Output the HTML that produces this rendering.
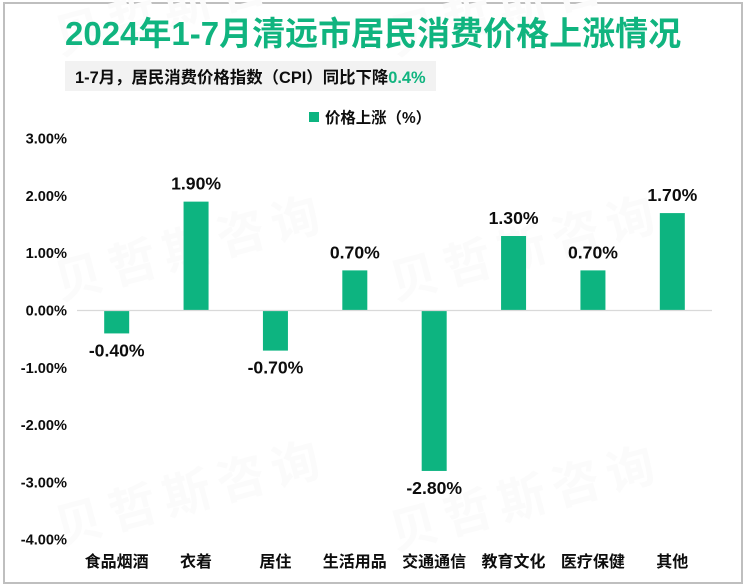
<!DOCTYPE html>
<html lang="zh"><head><meta charset="utf-8"><title>2024年1-7月清远市居民消费价格上涨情况</title>
<style>
html,body{margin:0;padding:0;background:#fff}
body{width:746px;height:586px;overflow:hidden;position:relative}
svg{position:absolute;left:0;top:0}
text{font-family:"Liberation Sans","Noto Sans CJK SC",sans-serif;font-weight:700;fill:#0d0d0d}
.wm{font-size:48px;fill:#fbfbfb;letter-spacing:8px}
</style></head><body>
<svg id="chart" width="746" height="586" viewBox="0 0 746 586" xmlns="http://www.w3.org/2000/svg">
<rect x="4" y="3" width="738" height="580" fill="#fff" stroke="#bfbfbf" stroke-width="2"/>
<g>
<text class="wm" transform="translate(60,55) rotate(-15)">贝哲斯咨询</text>
<text class="wm" transform="translate(395,55) rotate(-15)">贝哲斯咨询</text>
<text class="wm" transform="translate(60,300) rotate(-15)">贝哲斯咨询</text>
<text class="wm" transform="translate(395,300) rotate(-15)">贝哲斯咨询</text>
<text class="wm" transform="translate(60,545) rotate(-15)">贝哲斯咨询</text>
<text class="wm" transform="translate(395,550) rotate(-15)">贝哲斯咨询</text>
</g>
<text x="65" y="45" font-size="33" style="fill:#10b47f">2024年1-7月清远市居民消费价格上涨情况</text>
<rect x="65" y="61" width="371" height="30" fill="#f2f2f2"/>
<text x="75" y="83" font-size="16.4">1-7月，居民消费价格指数（CPI）同比下降<tspan style="fill:#10b47f">0.4%</tspan></text>
<rect x="309" y="112" width="10" height="10" fill="#0db480"/>
<text x="325" y="123" font-size="15.4">价格上涨（%）</text>
<g id="y-axis"></g>
<g id="bars"></g>
<line x1="77" x2="712" y1="310.5" y2="310.5" stroke="#d9d9d9" stroke-width="1.2"/>
<g id="x-axis"></g>
</svg>
<script>
const categories = ['食品烟酒','衣着','居住','生活用品','交通通信','教育文化','医疗保健','其他'];
const seriesValues = [-0.4,1.9,-0.7,0.7,-2.8,1.3,0.7,1.7];
const valueLabels = ['-0.40%','1.90%','-0.70%','0.70%','-2.80%','1.30%','0.70%','1.70%'];
const yTicks = [3,2,1,0,-1,-2,-3,-4];
const yTickLabels = ['3.00%','2.00%','1.00%','0.00%','-1.00%','-2.00%','-3.00%','-4.00%'];

const NS = 'http://www.w3.org/2000/svg';
const plotLeft = 77, plotRight = 712, zeroY = 310.5, unit = 57.3, barW = 25;
const yScale = v => zeroY - v * unit;
const xScale = i => plotLeft + (plotRight - plotLeft) * (i + 0.5) / categories.length;
function svgText(parent, x, y, size, anchor, str) {
  const t = document.createElementNS(NS, 'text');
  t.setAttribute('x', x);
  t.setAttribute('y', y);
  t.setAttribute('font-size', size);
  t.setAttribute('text-anchor', anchor);
  t.textContent = str;
  parent.appendChild(t);
  return t;
}
const yAxis = document.getElementById('y-axis');
yTicks.forEach((v, i) => {
  const t = svgText(yAxis, 67, yScale(v) + 5, 14.6, 'end', yTickLabels[i]);
  
  
});
const barsG = document.getElementById('bars');
seriesValues.forEach((v, i) => {
  const r = document.createElementNS(NS, 'rect');
  const y0 = yScale(Math.max(v, 0)), y1 = yScale(Math.min(v, 0));
  r.setAttribute('x', xScale(i) - barW / 2);
  r.setAttribute('y', y0);
  r.setAttribute('width', barW);
  r.setAttribute('height', y1 - y0);
  r.setAttribute('fill', '#0db480');
  
  
  barsG.appendChild(r);
  const ly = v >= 0 ? y0 - 12 : y1 + 23;
  const t = svgText(barsG, xScale(i), ly, 17.6, 'middle', valueLabels[i]);
  
  
});
const xAxis = document.getElementById('x-axis');
categories.forEach((c, i) => {
  const t = svgText(xAxis, xScale(i), 567, 16, 'middle', c);
  
  
});
</script>
</body></html>
